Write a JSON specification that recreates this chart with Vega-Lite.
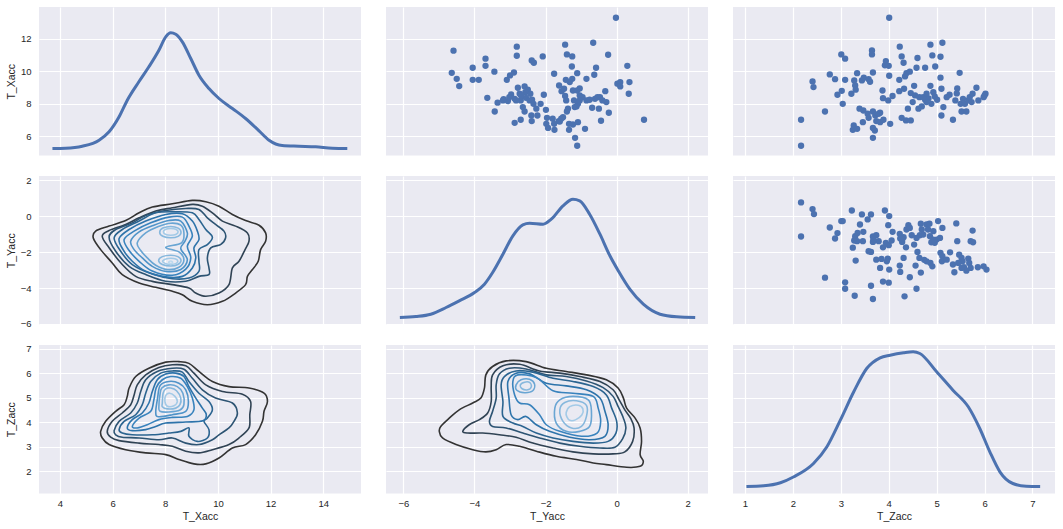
{
  "$schema": "https://vega.github.io/schema/vega-lite/v6.json",
  "padding": {"left": 6, "top": 7, "right": 5, "bottom": 5},
  "datasets": {
    "kde_x": [
      {"T_Xacc": 3.72, "density": 0}, {"T_Xacc": 4.22, "density": 0.003}, {"T_Xacc": 4.85, "density": 0.023},
      {"T_Xacc": 5.49, "density": 0.083}, {"T_Xacc": 5.87, "density": 0.167}, {"T_Xacc": 6.25, "density": 0.317},
      {"T_Xacc": 6.56, "density": 0.483}, {"T_Xacc": 7.0, "density": 0.667}, {"T_Xacc": 7.38, "density": 0.817},
      {"T_Xacc": 7.76, "density": 0.983}, {"T_Xacc": 8.02, "density": 1.117}, {"T_Xacc": 8.21, "density": 1.157},
      {"T_Xacc": 8.4, "density": 1.143}, {"T_Xacc": 8.65, "density": 1.067}, {"T_Xacc": 8.97, "density": 0.9},
      {"T_Xacc": 9.28, "density": 0.733}, {"T_Xacc": 9.66, "density": 0.6}, {"T_Xacc": 10.04, "density": 0.5},
      {"T_Xacc": 10.55, "density": 0.4}, {"T_Xacc": 11.05, "density": 0.3}, {"T_Xacc": 11.56, "density": 0.177},
      {"T_Xacc": 11.94, "density": 0.083}, {"T_Xacc": 12.44, "density": 0.03}, {"T_Xacc": 13.08, "density": 0.023},
      {"T_Xacc": 13.71, "density": 0.017}, {"T_Xacc": 14.34, "density": 0.003}, {"T_Xacc": 14.91, "density": 0}
    ],
    "kde_y": [
      {"T_Yacc": -6.1, "density": 0}, {"T_Yacc": -5.65, "density": 0.01}, {"T_Yacc": -5.23, "density": 0.033},
      {"T_Yacc": -4.8, "density": 0.1}, {"T_Yacc": -4.43, "density": 0.167}, {"T_Yacc": -4.0, "density": 0.25},
      {"T_Yacc": -3.72, "density": 0.333}, {"T_Yacc": -3.49, "density": 0.45}, {"T_Yacc": -3.2, "density": 0.633},
      {"T_Yacc": -2.92, "density": 0.817}, {"T_Yacc": -2.64, "density": 0.927}, {"T_Yacc": -2.45, "density": 0.943},
      {"T_Yacc": -2.07, "density": 0.933}, {"T_Yacc": -1.84, "density": 0.983}, {"T_Yacc": -1.51, "density": 1.117},
      {"T_Yacc": -1.23, "density": 1.183}, {"T_Yacc": -1.04, "density": 1.167}, {"T_Yacc": -0.76, "density": 1.033},
      {"T_Yacc": -0.47, "density": 0.833}, {"T_Yacc": -0.19, "density": 0.617}, {"T_Yacc": 0.045, "density": 0.467},
      {"T_Yacc": 0.37, "density": 0.283}, {"T_Yacc": 0.75, "density": 0.133}, {"T_Yacc": 1.22, "density": 0.033},
      {"T_Yacc": 1.69, "density": 0.007}, {"T_Yacc": 2.21, "density": 0}
    ],
    "kde_z": [
      {"T_Zacc": 1.03, "density": 0}, {"T_Zacc": 1.39, "density": 0.007}, {"T_Zacc": 1.74, "density": 0.037},
      {"T_Zacc": 2.02, "density": 0.097}, {"T_Zacc": 2.43, "density": 0.23}, {"T_Zacc": 2.71, "density": 0.397},
      {"T_Zacc": 2.99, "density": 0.663}, {"T_Zacc": 3.27, "density": 0.947}, {"T_Zacc": 3.54, "density": 1.18},
      {"T_Zacc": 3.82, "density": 1.287}, {"T_Zacc": 4.03, "density": 1.313}, {"T_Zacc": 4.31, "density": 1.337},
      {"T_Zacc": 4.51, "density": 1.347}, {"T_Zacc": 4.65, "density": 1.33}, {"T_Zacc": 5.0, "density": 1.147},
      {"T_Zacc": 5.34, "density": 0.963}, {"T_Zacc": 5.66, "density": 0.797}, {"T_Zacc": 5.9, "density": 0.58},
      {"T_Zacc": 6.11, "density": 0.347}, {"T_Zacc": 6.32, "density": 0.147}, {"T_Zacc": 6.59, "density": 0.03},
      {"T_Zacc": 6.87, "density": 0.003}, {"T_Zacc": 7.16, "density": 0}
    ],
    "s12": [
      {"T_Yacc": -4.59, "T_Xacc": 11.26}, {"T_Yacc": -4.64, "T_Xacc": 9.9}, {"T_Yacc": -4.5, "T_Xacc": 9.53},
      {"T_Yacc": -4.43, "T_Xacc": 9.08}, {"T_Yacc": -4.05, "T_Xacc": 10.21}, {"T_Yacc": -4.05, "T_Xacc": 9.47},
      {"T_Yacc": -3.88, "T_Xacc": 9.47}, {"T_Yacc": -3.69, "T_Xacc": 10.77}, {"T_Yacc": -3.69, "T_Xacc": 10.33},
      {"T_Yacc": -3.44, "T_Xacc": 9.97}, {"T_Yacc": -3.64, "T_Xacc": 8.36}, {"T_Yacc": -3.35, "T_Xacc": 8.06},
      {"T_Yacc": -3.43, "T_Xacc": 7.52}, {"T_Yacc": -3.18, "T_Xacc": 8.28}, {"T_Yacc": -3.06, "T_Xacc": 8.16},
      {"T_Yacc": -3.09, "T_Xacc": 9.47}, {"T_Yacc": -3.0, "T_Xacc": 9.74}, {"T_Yacc": -2.89, "T_Xacc": 9.92},
      {"T_Yacc": -2.81, "T_Xacc": 11.51}, {"T_Yacc": -2.81, "T_Xacc": 10.95}, {"T_Yacc": -2.97, "T_Xacc": 8.57},
      {"T_Yacc": -2.87, "T_Xacc": 8.3}, {"T_Yacc": -2.78, "T_Xacc": 8.98}, {"T_Yacc": -2.73, "T_Xacc": 8.61},
      {"T_Yacc": -2.7, "T_Xacc": 8.2}, {"T_Yacc": -2.59, "T_Xacc": 9.06}, {"T_Yacc": -2.57, "T_Xacc": 8.71},
      {"T_Yacc": -2.5, "T_Xacc": 8.86}, {"T_Yacc": -2.55, "T_Xacc": 8.36}, {"T_Yacc": -2.45, "T_Xacc": 8.2},
      {"T_Yacc": -2.38, "T_Xacc": 8.24}, {"T_Yacc": -2.59, "T_Xacc": 7.52}, {"T_Yacc": -2.4, "T_Xacc": 7.27},
      {"T_Yacc": -2.39, "T_Xacc": 6.93}, {"T_Yacc": -2.26, "T_Xacc": 7.69}, {"T_Yacc": -2.23, "T_Xacc": 7.27},
      {"T_Yacc": -2.14, "T_Xacc": 7.99}, {"T_Yacc": -2.05, "T_Xacc": 8.55}, {"T_Yacc": -2.39, "T_Xacc": 10.66},
      {"T_Yacc": -2.33, "T_Xacc": 10.52}, {"T_Yacc": -2.08, "T_Xacc": 10.91}, {"T_Yacc": -2.87, "T_Xacc": 6.82},
      {"T_Yacc": -2.7, "T_Xacc": 7.01}, {"T_Yacc": -1.99, "T_Xacc": 7.62}, {"T_Yacc": -1.96, "T_Xacc": 7.13},
      {"T_Yacc": -1.93, "T_Xacc": 6.51}, {"T_Yacc": -1.8, "T_Xacc": 7.07}, {"T_Yacc": -1.75, "T_Xacc": 6.39},
      {"T_Yacc": -1.63, "T_Xacc": 6.93}, {"T_Yacc": -1.51, "T_Xacc": 7.17}, {"T_Yacc": -1.4, "T_Xacc": 7.52},
      {"T_Yacc": -1.76, "T_Xacc": 9.84}, {"T_Yacc": -1.62, "T_Xacc": 9.12}, {"T_Yacc": -1.55, "T_Xacc": 8.77},
      {"T_Yacc": -1.45, "T_Xacc": 8.47}, {"T_Yacc": -1.48, "T_Xacc": 8.92}, {"T_Yacc": -1.43, "T_Xacc": 9.47},
      {"T_Yacc": -1.45, "T_Xacc": 11.63}, {"T_Yacc": -1.4, "T_Xacc": 11.03}, {"T_Yacc": -1.25, "T_Xacc": 10.91},
      {"T_Yacc": -1.26, "T_Xacc": 10.29}, {"T_Yacc": -1.25, "T_Xacc": 9.53}, {"T_Yacc": -1.11, "T_Xacc": 9.88},
      {"T_Yacc": -1.23, "T_Xacc": 8.81}, {"T_Yacc": -1.11, "T_Xacc": 8.81}, {"T_Yacc": -1.04, "T_Xacc": 8.51},
      {"T_Yacc": -1.2, "T_Xacc": 8.2}, {"T_Yacc": -1.09, "T_Xacc": 7.99}, {"T_Yacc": -0.96, "T_Xacc": 8.4},
      {"T_Yacc": -1.13, "T_Xacc": 7.83}, {"T_Yacc": -1.34, "T_Xacc": 6.76}, {"T_Yacc": -1.34, "T_Xacc": 6.39},
      {"T_Yacc": -1.23, "T_Xacc": 6.72}, {"T_Yacc": -1.09, "T_Xacc": 6.86}, {"T_Yacc": -1.17, "T_Xacc": 5.9},
      {"T_Yacc": -1.11, "T_Xacc": 5.41}, {"T_Yacc": -0.89, "T_Xacc": 6.45}, {"T_Yacc": -0.85, "T_Xacc": 9.53},
      {"T_Yacc": -0.85, "T_Xacc": 8.2}, {"T_Yacc": -0.66, "T_Xacc": 11.75}, {"T_Yacc": -0.63, "T_Xacc": 9.78},
      {"T_Yacc": -0.58, "T_Xacc": 10.21}, {"T_Yacc": -0.69, "T_Xacc": 7.75}, {"T_Yacc": -0.5, "T_Xacc": 7.69},
      {"T_Yacc": -0.61, "T_Xacc": 8.3}, {"T_Yacc": -0.47, "T_Xacc": 8.4}, {"T_Yacc": -0.32, "T_Xacc": 8.77},
      {"T_Yacc": -0.29, "T_Xacc": 8.1}, {"T_Yacc": -0.22, "T_Xacc": 7.44}, {"T_Yacc": -0.44, "T_Xacc": 6.95},
      {"T_Yacc": -0.24, "T_Xacc": 11.01}, {"T_Yacc": -0.02, "T_Xacc": 13.29}, {"T_Yacc": 0.02, "T_Xacc": 9.23},
      {"T_Yacc": 0.1, "T_Xacc": 9.33}, {"T_Yacc": 0.1, "T_Xacc": 9.06}, {"T_Yacc": 0.3, "T_Xacc": 10.33},
      {"T_Yacc": 0.36, "T_Xacc": 9.33}, {"T_Yacc": 0.34, "T_Xacc": 8.61}, {"T_Yacc": 0.77, "T_Xacc": 7.01},
      {"T_Yacc": -1.42, "T_Xacc": 8.2}, {"T_Yacc": -1.6, "T_Xacc": 6.9}, {"T_Yacc": -1.32, "T_Xacc": 9.33},
      {"T_Yacc": -1.98, "T_Xacc": 6.76}, {"T_Yacc": -2.64, "T_Xacc": 7.79}, {"T_Yacc": -2.34, "T_Xacc": 7.99},
      {"T_Yacc": -2.83, "T_Xacc": 8.2}, {"T_Yacc": -0.4, "T_Xacc": 8.2}, {"T_Yacc": -0.76, "T_Xacc": 8.24},
      {"T_Yacc": -0.54, "T_Xacc": 8.4}, {"T_Yacc": -1.04, "T_Xacc": 8.2}, {"T_Yacc": -1.18, "T_Xacc": 7.79},
      {"T_Yacc": -1.37, "T_Xacc": 7.69}, {"T_Yacc": -1.56, "T_Xacc": 7.07}, {"T_Yacc": -1.76, "T_Xacc": 6.76},
      {"T_Yacc": -2.69, "T_Xacc": 8.51}, {"T_Yacc": -2.43, "T_Xacc": 8.61}, {"T_Yacc": -3.02, "T_Xacc": 8.4},
      {"T_Yacc": -3.2, "T_Xacc": 8.2}, {"T_Yacc": -1.04, "T_Xacc": 8.94}
    ],
    "s13": [
      {"T_Zacc": 4.01, "T_Xacc": 13.29}, {"T_Zacc": 2.17, "T_Xacc": 7.01}, {"T_Zacc": 2.17, "T_Xacc": 5.41},
      {"T_Zacc": 2.41, "T_Xacc": 9.37}, {"T_Zacc": 2.43, "T_Xacc": 9.02}, {"T_Zacc": 2.67, "T_Xacc": 7.52},
      {"T_Zacc": 2.77, "T_Xacc": 9.8}, {"T_Zacc": 2.88, "T_Xacc": 9.51}, {"T_Zacc": 3.01, "T_Xacc": 11.03},
      {"T_Zacc": 3.09, "T_Xacc": 10.77}, {"T_Zacc": 3.09, "T_Xacc": 9.47}, {"T_Zacc": 3.02, "T_Xacc": 8.79},
      {"T_Zacc": 2.93, "T_Xacc": 8.55}, {"T_Zacc": 3.04, "T_Xacc": 7.99}, {"T_Zacc": 3.22, "T_Xacc": 8.61},
      {"T_Zacc": 3.28, "T_Xacc": 9.43}, {"T_Zacc": 3.3, "T_Xacc": 9.12}, {"T_Zacc": 3.34, "T_Xacc": 9.88},
      {"T_Zacc": 3.31, "T_Xacc": 8.86}, {"T_Zacc": 3.44, "T_Xacc": 9.43}, {"T_Zacc": 3.48, "T_Xacc": 9.6},
      {"T_Zacc": 3.58, "T_Xacc": 9.51}, {"T_Zacc": 3.61, "T_Xacc": 9.35}, {"T_Zacc": 3.65, "T_Xacc": 11.28},
      {"T_Zacc": 3.65, "T_Xacc": 11.03}, {"T_Zacc": 3.67, "T_Xacc": 9.92}, {"T_Zacc": 3.39, "T_Xacc": 7.69},
      {"T_Zacc": 3.47, "T_Xacc": 7.58}, {"T_Zacc": 3.56, "T_Xacc": 7.38}, {"T_Zacc": 3.46, "T_Xacc": 6.86},
      {"T_Zacc": 3.27, "T_Xacc": 6.66}, {"T_Zacc": 3.25, "T_Xacc": 6.39}, {"T_Zacc": 3.34, "T_Xacc": 6.45},
      {"T_Zacc": 3.58, "T_Xacc": 7.13}, {"T_Zacc": 3.67, "T_Xacc": 7.52}, {"T_Zacc": 3.72, "T_Xacc": 7.27},
      {"T_Zacc": 3.82, "T_Xacc": 7.44}, {"T_Zacc": 3.74, "T_Xacc": 6.93}, {"T_Zacc": 3.67, "T_Xacc": 6.51},
      {"T_Zacc": 3.71, "T_Xacc": 6.35}, {"T_Zacc": 3.67, "T_Xacc": 5.9}, {"T_Zacc": 3.82, "T_Xacc": 6.86},
      {"T_Zacc": 3.89, "T_Xacc": 7.01}, {"T_Zacc": 4.03, "T_Xacc": 6.76}, {"T_Zacc": 3.87, "T_Xacc": 8.81},
      {"T_Zacc": 3.88, "T_Xacc": 8.34}, {"T_Zacc": 3.99, "T_Xacc": 8.2}, {"T_Zacc": 4.08, "T_Xacc": 8.47},
      {"T_Zacc": 3.92, "T_Xacc": 10.36}, {"T_Zacc": 3.94, "T_Xacc": 10.62}, {"T_Zacc": 4.0, "T_Xacc": 10.33},
      {"T_Zacc": 4.01, "T_Xacc": 9.72}, {"T_Zacc": 4.23, "T_Xacc": 11.51}, {"T_Zacc": 4.27, "T_Xacc": 10.91},
      {"T_Zacc": 4.31, "T_Xacc": 10.52}, {"T_Zacc": 4.22, "T_Xacc": 9.47}, {"T_Zacc": 4.22, "T_Xacc": 8.77},
      {"T_Zacc": 4.32, "T_Xacc": 8.92}, {"T_Zacc": 4.34, "T_Xacc": 9.68}, {"T_Zacc": 4.37, "T_Xacc": 9.88},
      {"T_Zacc": 4.44, "T_Xacc": 9.97}, {"T_Zacc": 4.6, "T_Xacc": 10.81}, {"T_Zacc": 4.58, "T_Xacc": 10.21},
      {"T_Zacc": 4.76, "T_Xacc": 10.21}, {"T_Zacc": 4.87, "T_Xacc": 11.63}, {"T_Zacc": 4.91, "T_Xacc": 10.97},
      {"T_Zacc": 4.97, "T_Xacc": 10.29}, {"T_Zacc": 5.12, "T_Xacc": 11.75}, {"T_Zacc": 5.08, "T_Xacc": 10.89},
      {"T_Zacc": 5.08, "T_Xacc": 9.6}, {"T_Zacc": 5.1, "T_Xacc": 8.92}, {"T_Zacc": 4.53, "T_Xacc": 9.1},
      {"T_Zacc": 4.46, "T_Xacc": 8.65}, {"T_Zacc": 4.5, "T_Xacc": 8.1}, {"T_Zacc": 4.4, "T_Xacc": 7.69},
      {"T_Zacc": 4.27, "T_Xacc": 7.13}, {"T_Zacc": 4.36, "T_Xacc": 6.97}, {"T_Zacc": 4.46, "T_Xacc": 6.97},
      {"T_Zacc": 4.62, "T_Xacc": 7.69}, {"T_Zacc": 4.69, "T_Xacc": 7.83}, {"T_Zacc": 4.64, "T_Xacc": 8.4},
      {"T_Zacc": 4.76, "T_Xacc": 8.24}, {"T_Zacc": 4.83, "T_Xacc": 8.32}, {"T_Zacc": 4.87, "T_Xacc": 9.1},
      {"T_Zacc": 4.93, "T_Xacc": 8.71}, {"T_Zacc": 4.96, "T_Xacc": 8.44}, {"T_Zacc": 5.01, "T_Xacc": 8.24},
      {"T_Zacc": 4.89, "T_Xacc": 7.99}, {"T_Zacc": 4.79, "T_Xacc": 8.1}, {"T_Zacc": 5.14, "T_Xacc": 7.79},
      {"T_Zacc": 5.1, "T_Xacc": 7.27}, {"T_Zacc": 5.34, "T_Xacc": 7.01}, {"T_Zacc": 5.27, "T_Xacc": 8.55},
      {"T_Zacc": 5.39, "T_Xacc": 8.2}, {"T_Zacc": 5.42, "T_Xacc": 8.63}, {"T_Zacc": 5.43, "T_Xacc": 8.94},
      {"T_Zacc": 5.48, "T_Xacc": 9.9}, {"T_Zacc": 5.5, "T_Xacc": 7.99}, {"T_Zacc": 5.52, "T_Xacc": 7.52},
      {"T_Zacc": 5.62, "T_Xacc": 7.52}, {"T_Zacc": 5.59, "T_Xacc": 7.99}, {"T_Zacc": 5.66, "T_Xacc": 8.2},
      {"T_Zacc": 5.69, "T_Xacc": 8.4}, {"T_Zacc": 5.75, "T_Xacc": 8.61}, {"T_Zacc": 5.83, "T_Xacc": 8.98},
      {"T_Zacc": 5.73, "T_Xacc": 8.1}, {"T_Zacc": 5.87, "T_Xacc": 8.2}, {"T_Zacc": 5.98, "T_Xacc": 8.4},
      {"T_Zacc": 6.02, "T_Xacc": 8.61}, {"T_Zacc": 6.0, "T_Xacc": 8.51}, {"T_Zacc": 4.55, "T_Xacc": 8.51},
      {"T_Zacc": 4.72, "T_Xacc": 8.4}, {"T_Zacc": 4.79, "T_Xacc": 8.61}, {"T_Zacc": 5.21, "T_Xacc": 8.4},
      {"T_Zacc": 5.55, "T_Xacc": 8.3}, {"T_Zacc": 3.79, "T_Xacc": 7.38}
    ],
    "s23": [
      {"T_Zacc": 2.17, "T_Yacc": 0.77}, {"T_Zacc": 2.17, "T_Yacc": -1.13}, {"T_Zacc": 2.41, "T_Yacc": 0.4},
      {"T_Zacc": 2.44, "T_Yacc": 0.12}, {"T_Zacc": 2.67, "T_Yacc": -3.42}, {"T_Zacc": 2.77, "T_Yacc": -0.63},
      {"T_Zacc": 2.88, "T_Yacc": -1.24}, {"T_Zacc": 2.93, "T_Yacc": -0.94}, {"T_Zacc": 3.01, "T_Yacc": -0.27},
      {"T_Zacc": 3.04, "T_Yacc": -0.27}, {"T_Zacc": 3.09, "T_Yacc": -3.68}, {"T_Zacc": 3.09, "T_Yacc": -4.04},
      {"T_Zacc": 3.23, "T_Yacc": 0.32}, {"T_Zacc": 3.25, "T_Yacc": -1.75}, {"T_Zacc": 3.29, "T_Yacc": -4.43},
      {"T_Zacc": 3.31, "T_Yacc": -2.47}, {"T_Zacc": 3.28, "T_Yacc": -1.35}, {"T_Zacc": 3.3, "T_Yacc": -1.11},
      {"T_Zacc": 3.35, "T_Yacc": -0.93}, {"T_Zacc": 3.4, "T_Yacc": -0.46}, {"T_Zacc": 3.44, "T_Yacc": 0.1},
      {"T_Zacc": 3.47, "T_Yacc": -0.87}, {"T_Zacc": 3.46, "T_Yacc": -1.39}, {"T_Zacc": 3.56, "T_Yacc": -0.18},
      {"T_Zacc": 3.63, "T_Yacc": 0.1}, {"T_Zacc": 3.58, "T_Yacc": -1.95}, {"T_Zacc": 3.63, "T_Yacc": -1.99},
      {"T_Zacc": 3.67, "T_Yacc": -1.13}, {"T_Zacc": 3.67, "T_Yacc": -1.43}, {"T_Zacc": 3.74, "T_Yacc": -1.06},
      {"T_Zacc": 3.79, "T_Yacc": -1.39}, {"T_Zacc": 3.63, "T_Yacc": -3.87}, {"T_Zacc": 3.67, "T_Yacc": -4.61},
      {"T_Zacc": 3.74, "T_Yacc": -2.42}, {"T_Zacc": 3.82, "T_Yacc": -2.88}, {"T_Zacc": 3.85, "T_Yacc": -2.38},
      {"T_Zacc": 3.88, "T_Yacc": -1.73}, {"T_Zacc": 3.88, "T_Yacc": -3.64}, {"T_Zacc": 3.92, "T_Yacc": 0.32},
      {"T_Zacc": 3.94, "T_Yacc": -1.48}, {"T_Zacc": 3.98, "T_Yacc": -2.36}, {"T_Zacc": 3.99, "T_Yacc": -0.5},
      {"T_Zacc": 4.01, "T_Yacc": 0.01}, {"T_Zacc": 4.0, "T_Yacc": -1.61}, {"T_Zacc": 4.01, "T_Yacc": -2.97},
      {"T_Zacc": 4.06, "T_Yacc": -1.35}, {"T_Zacc": 4.08, "T_Yacc": -0.87}, {"T_Zacc": 4.0, "T_Yacc": -3.7},
      {"T_Zacc": 4.23, "T_Yacc": -0.98}, {"T_Zacc": 4.23, "T_Yacc": -2.75}, {"T_Zacc": 4.24, "T_Yacc": -3.1},
      {"T_Zacc": 4.31, "T_Yacc": -1.17}, {"T_Zacc": 4.28, "T_Yacc": -1.43}, {"T_Zacc": 4.31, "T_Yacc": -2.32},
      {"T_Zacc": 4.33, "T_Yacc": -4.46}, {"T_Zacc": 4.36, "T_Yacc": -1.73}, {"T_Zacc": 4.37, "T_Yacc": -0.74},
      {"T_Zacc": 4.41, "T_Yacc": -0.5}, {"T_Zacc": 4.44, "T_Yacc": -3.4}, {"T_Zacc": 4.48, "T_Yacc": -1.06},
      {"T_Zacc": 4.53, "T_Yacc": -1.58}, {"T_Zacc": 4.56, "T_Yacc": -2.75}, {"T_Zacc": 4.58, "T_Yacc": -4.04},
      {"T_Zacc": 4.6, "T_Yacc": -1.99}, {"T_Zacc": 4.64, "T_Yacc": -2.32}, {"T_Zacc": 4.67, "T_Yacc": -3.14},
      {"T_Zacc": 4.67, "T_Yacc": -0.42}, {"T_Zacc": 4.65, "T_Yacc": -1.06}, {"T_Zacc": 4.72, "T_Yacc": -1.02},
      {"T_Zacc": 4.74, "T_Yacc": -2.43}, {"T_Zacc": 4.79, "T_Yacc": -0.46}, {"T_Zacc": 4.85, "T_Yacc": -0.42},
      {"T_Zacc": 4.82, "T_Yacc": -0.74}, {"T_Zacc": 4.86, "T_Yacc": -1.11}, {"T_Zacc": 4.89, "T_Yacc": -1.45},
      {"T_Zacc": 4.87, "T_Yacc": -2.6}, {"T_Zacc": 4.91, "T_Yacc": -2.79}, {"T_Zacc": 4.93, "T_Yacc": -0.83},
      {"T_Zacc": 4.96, "T_Yacc": -1.48}, {"T_Zacc": 5.0, "T_Yacc": -1.3}, {"T_Zacc": 5.03, "T_Yacc": -0.27},
      {"T_Zacc": 5.07, "T_Yacc": -1.21}, {"T_Zacc": 5.12, "T_Yacc": -0.65}, {"T_Zacc": 5.08, "T_Yacc": -2.04},
      {"T_Zacc": 5.12, "T_Yacc": -2.23}, {"T_Zacc": 5.11, "T_Yacc": -2.51}, {"T_Zacc": 5.28, "T_Yacc": -2.01},
      {"T_Zacc": 5.34, "T_Yacc": -2.69}, {"T_Zacc": 5.37, "T_Yacc": -3.12}, {"T_Zacc": 5.41, "T_Yacc": -0.4},
      {"T_Zacc": 5.43, "T_Yacc": -1.39}, {"T_Zacc": 5.47, "T_Yacc": -2.14}, {"T_Zacc": 5.52, "T_Yacc": -2.32},
      {"T_Zacc": 5.54, "T_Yacc": -2.51}, {"T_Zacc": 5.57, "T_Yacc": -2.84}, {"T_Zacc": 5.62, "T_Yacc": -3.03},
      {"T_Zacc": 5.66, "T_Yacc": -2.36}, {"T_Zacc": 5.68, "T_Yacc": -2.6}, {"T_Zacc": 5.71, "T_Yacc": -2.88},
      {"T_Zacc": 5.75, "T_Yacc": -0.8}, {"T_Zacc": 5.71, "T_Yacc": -1.39}, {"T_Zacc": 5.76, "T_Yacc": -1.45},
      {"T_Zacc": 5.86, "T_Yacc": -2.84}, {"T_Zacc": 5.98, "T_Yacc": -2.79}, {"T_Zacc": 6.04, "T_Yacc": -2.97},
      {"T_Zacc": 4.44, "T_Yacc": -0.65}, {"T_Zacc": 4.58, "T_Yacc": -1.21}, {"T_Zacc": 4.24, "T_Yacc": -1.24},
      {"T_Zacc": 4.79, "T_Yacc": -2.51}, {"T_Zacc": 5.21, "T_Yacc": -2.42}, {"T_Zacc": 5.52, "T_Yacc": -2.88},
      {"T_Zacc": 3.96, "T_Yacc": -2.51}, {"T_Zacc": 3.68, "T_Yacc": -1.3}, {"T_Zacc": 3.34, "T_Yacc": -1.39},
      {"T_Zacc": 4.69, "T_Yacc": -0.74}, {"T_Zacc": 4.28, "T_Yacc": -1.3}, {"T_Zacc": 4.93, "T_Yacc": -1.3},
      {"T_Zacc": 5.45, "T_Yacc": -2.6}
    ],
    "c21": [
      {"ring": "1", "level": 1, "T_Xacc": 5.27, "T_Yacc": -1.21}, {"ring": "1", "level": 1, "T_Xacc": 5.36, "T_Yacc": -0.83},
      {"ring": "1", "level": 1, "T_Xacc": 5.87, "T_Yacc": -0.55}, {"ring": "1", "level": 1, "T_Xacc": 6.5, "T_Yacc": -0.24},
      {"ring": "1", "level": 1, "T_Xacc": 7.01, "T_Yacc": 0.19}, {"ring": "1", "level": 1, "T_Xacc": 7.51, "T_Yacc": 0.51},
      {"ring": "1", "level": 1, "T_Xacc": 8.27, "T_Yacc": 0.69}, {"ring": "1", "level": 1, "T_Xacc": 9.03, "T_Yacc": 0.88},
      {"ring": "1", "level": 1, "T_Xacc": 9.54, "T_Yacc": 0.81}, {"ring": "1", "level": 1, "T_Xacc": 10.04, "T_Yacc": 0.56},
      {"ring": "1", "level": 1, "T_Xacc": 10.55, "T_Yacc": 0.1}, {"ring": "1", "level": 1, "T_Xacc": 11.05, "T_Yacc": -0.24},
      {"ring": "1", "level": 1, "T_Xacc": 11.56, "T_Yacc": -0.5}, {"ring": "1", "level": 1, "T_Xacc": 11.81, "T_Yacc": -0.93},
      {"ring": "1", "level": 1, "T_Xacc": 11.81, "T_Yacc": -1.39}, {"ring": "1", "level": 1, "T_Xacc": 11.62, "T_Yacc": -1.86},
      {"ring": "1", "level": 1, "T_Xacc": 11.53, "T_Yacc": -2.51}, {"ring": "1", "level": 1, "T_Xacc": 11.31, "T_Yacc": -2.97},
      {"ring": "1", "level": 1, "T_Xacc": 11.12, "T_Yacc": -3.35}, {"ring": "1", "level": 1, "T_Xacc": 11.05, "T_Yacc": -3.81},
      {"ring": "1", "level": 1, "T_Xacc": 10.67, "T_Yacc": -4.28}, {"ring": "1", "level": 1, "T_Xacc": 10.17, "T_Yacc": -4.74},
      {"ring": "1", "level": 1, "T_Xacc": 9.6, "T_Yacc": -4.93}, {"ring": "1", "level": 1, "T_Xacc": 9.03, "T_Yacc": -4.74},
      {"ring": "1", "level": 1, "T_Xacc": 8.65, "T_Yacc": -4.37}, {"ring": "1", "level": 1, "T_Xacc": 8.27, "T_Yacc": -4.18},
      {"ring": "1", "level": 1, "T_Xacc": 7.64, "T_Yacc": -3.96}, {"ring": "1", "level": 1, "T_Xacc": 7.01, "T_Yacc": -3.72},
      {"ring": "1", "level": 1, "T_Xacc": 6.37, "T_Yacc": -3.25}, {"ring": "1", "level": 1, "T_Xacc": 5.99, "T_Yacc": -2.6},
      {"ring": "1", "level": 1, "T_Xacc": 5.55, "T_Yacc": -1.86},
      {"ring": "2", "level": 2, "T_Xacc": 5.61, "T_Yacc": -1.11}, {"ring": "2", "level": 2, "T_Xacc": 5.87, "T_Yacc": -0.8},
      {"ring": "2", "level": 2, "T_Xacc": 6.5, "T_Yacc": -0.46}, {"ring": "2", "level": 2, "T_Xacc": 7.01, "T_Yacc": -0.09},
      {"ring": "2", "level": 2, "T_Xacc": 7.64, "T_Yacc": 0.29}, {"ring": "2", "level": 2, "T_Xacc": 8.27, "T_Yacc": 0.47},
      {"ring": "2", "level": 2, "T_Xacc": 9.03, "T_Yacc": 0.66}, {"ring": "2", "level": 2, "T_Xacc": 9.41, "T_Yacc": 0.56},
      {"ring": "2", "level": 2, "T_Xacc": 9.79, "T_Yacc": 0.19}, {"ring": "2", "level": 2, "T_Xacc": 10.17, "T_Yacc": -0.27},
      {"ring": "2", "level": 2, "T_Xacc": 10.67, "T_Yacc": -0.55}, {"ring": "2", "level": 2, "T_Xacc": 11.12, "T_Yacc": -0.93},
      {"ring": "2", "level": 2, "T_Xacc": 11.18, "T_Yacc": -1.39}, {"ring": "2", "level": 2, "T_Xacc": 11.03, "T_Yacc": -1.86},
      {"ring": "2", "level": 2, "T_Xacc": 10.8, "T_Yacc": -2.51}, {"ring": "2", "level": 2, "T_Xacc": 10.55, "T_Yacc": -2.88},
      {"ring": "2", "level": 2, "T_Xacc": 10.42, "T_Yacc": -3.81}, {"ring": "2", "level": 2, "T_Xacc": 10.04, "T_Yacc": -4.28},
      {"ring": "2", "level": 2, "T_Xacc": 9.54, "T_Yacc": -4.46}, {"ring": "2", "level": 2, "T_Xacc": 9.16, "T_Yacc": -4.28},
      {"ring": "2", "level": 2, "T_Xacc": 8.9, "T_Yacc": -4.0}, {"ring": "2", "level": 2, "T_Xacc": 8.27, "T_Yacc": -3.81},
      {"ring": "2", "level": 2, "T_Xacc": 7.51, "T_Yacc": -3.63}, {"ring": "2", "level": 2, "T_Xacc": 6.88, "T_Yacc": -3.35},
      {"ring": "2", "level": 2, "T_Xacc": 6.37, "T_Yacc": -2.69}, {"ring": "2", "level": 2, "T_Xacc": 5.87, "T_Yacc": -1.76},
      {"ring": "3", "level": 3, "T_Xacc": 5.87, "T_Yacc": -1.17}, {"ring": "3", "level": 3, "T_Xacc": 6.12, "T_Yacc": -0.74},
      {"ring": "3", "level": 3, "T_Xacc": 6.75, "T_Yacc": -0.37}, {"ring": "3", "level": 3, "T_Xacc": 7.26, "T_Yacc": 0.04},
      {"ring": "3", "level": 3, "T_Xacc": 8.02, "T_Yacc": 0.32}, {"ring": "3", "level": 3, "T_Xacc": 8.78, "T_Yacc": 0.43},
      {"ring": "3", "level": 3, "T_Xacc": 9.28, "T_Yacc": 0.38}, {"ring": "3", "level": 3, "T_Xacc": 9.6, "T_Yacc": -0.09},
      {"ring": "3", "level": 3, "T_Xacc": 9.91, "T_Yacc": -0.46}, {"ring": "3", "level": 3, "T_Xacc": 10.23, "T_Yacc": -0.83},
      {"ring": "3", "level": 3, "T_Xacc": 10.29, "T_Yacc": -1.21}, {"ring": "3", "level": 3, "T_Xacc": 10.1, "T_Yacc": -1.58},
      {"ring": "3", "level": 3, "T_Xacc": 9.73, "T_Yacc": -1.76}, {"ring": "3", "level": 3, "T_Xacc": 9.6, "T_Yacc": -2.32},
      {"ring": "3", "level": 3, "T_Xacc": 9.66, "T_Yacc": -2.88}, {"ring": "3", "level": 3, "T_Xacc": 9.66, "T_Yacc": -3.25},
      {"ring": "3", "level": 3, "T_Xacc": 9.28, "T_Yacc": -3.35}, {"ring": "3", "level": 3, "T_Xacc": 8.78, "T_Yacc": -3.62},
      {"ring": "3", "level": 3, "T_Xacc": 8.02, "T_Yacc": -3.62}, {"ring": "3", "level": 3, "T_Xacc": 7.26, "T_Yacc": -3.25},
      {"ring": "3", "level": 3, "T_Xacc": 6.63, "T_Yacc": -2.79}, {"ring": "3", "level": 3, "T_Xacc": 6.12, "T_Yacc": -1.95},
      {"ring": "4", "level": 4, "T_Xacc": 6.06, "T_Yacc": -1.21}, {"ring": "4", "level": 4, "T_Xacc": 6.37, "T_Yacc": -0.74},
      {"ring": "4", "level": 4, "T_Xacc": 7.01, "T_Yacc": -0.27}, {"ring": "4", "level": 4, "T_Xacc": 7.64, "T_Yacc": 0.19},
      {"ring": "4", "level": 4, "T_Xacc": 8.4, "T_Yacc": 0.25}, {"ring": "4", "level": 4, "T_Xacc": 9.03, "T_Yacc": 0.19},
      {"ring": "4", "level": 4, "T_Xacc": 9.28, "T_Yacc": -0.18}, {"ring": "4", "level": 4, "T_Xacc": 9.54, "T_Yacc": -0.74},
      {"ring": "4", "level": 4, "T_Xacc": 9.79, "T_Yacc": -1.17}, {"ring": "4", "level": 4, "T_Xacc": 9.6, "T_Yacc": -1.58},
      {"ring": "4", "level": 4, "T_Xacc": 9.28, "T_Yacc": -1.86}, {"ring": "4", "level": 4, "T_Xacc": 9.28, "T_Yacc": -2.51},
      {"ring": "4", "level": 4, "T_Xacc": 9.28, "T_Yacc": -3.07}, {"ring": "4", "level": 4, "T_Xacc": 8.9, "T_Yacc": -3.44},
      {"ring": "4", "level": 4, "T_Xacc": 8.27, "T_Yacc": -3.48}, {"ring": "4", "level": 4, "T_Xacc": 7.51, "T_Yacc": -3.22},
      {"ring": "4", "level": 4, "T_Xacc": 6.75, "T_Yacc": -2.69}, {"ring": "4", "level": 4, "T_Xacc": 6.31, "T_Yacc": -1.95},
      {"ring": "5", "level": 5, "T_Xacc": 6.25, "T_Yacc": -1.24}, {"ring": "5", "level": 5, "T_Xacc": 6.63, "T_Yacc": -0.74},
      {"ring": "5", "level": 5, "T_Xacc": 7.26, "T_Yacc": -0.27}, {"ring": "5", "level": 5, "T_Xacc": 8.02, "T_Yacc": 0.1},
      {"ring": "5", "level": 5, "T_Xacc": 8.65, "T_Yacc": 0.14}, {"ring": "5", "level": 5, "T_Xacc": 9.03, "T_Yacc": -0.27},
      {"ring": "5", "level": 5, "T_Xacc": 9.22, "T_Yacc": -0.83}, {"ring": "5", "level": 5, "T_Xacc": 9.28, "T_Yacc": -1.3},
      {"ring": "5", "level": 5, "T_Xacc": 9.09, "T_Yacc": -1.76}, {"ring": "5", "level": 5, "T_Xacc": 9.16, "T_Yacc": -2.32},
      {"ring": "5", "level": 5, "T_Xacc": 9.03, "T_Yacc": -2.88}, {"ring": "5", "level": 5, "T_Xacc": 8.65, "T_Yacc": -3.35},
      {"ring": "5", "level": 5, "T_Xacc": 8.02, "T_Yacc": -3.38}, {"ring": "5", "level": 5, "T_Xacc": 7.26, "T_Yacc": -3.07},
      {"ring": "5", "level": 5, "T_Xacc": 6.75, "T_Yacc": -2.51}, {"ring": "5", "level": 5, "T_Xacc": 6.4, "T_Yacc": -1.86},
      {"ring": "6", "level": 6, "T_Xacc": 6.44, "T_Yacc": -1.3}, {"ring": "6", "level": 6, "T_Xacc": 6.82, "T_Yacc": -0.83},
      {"ring": "6", "level": 6, "T_Xacc": 7.45, "T_Yacc": -0.37}, {"ring": "6", "level": 6, "T_Xacc": 8.14, "T_Yacc": -0.05},
      {"ring": "6", "level": 6, "T_Xacc": 8.65, "T_Yacc": -0.05}, {"ring": "6", "level": 6, "T_Xacc": 8.9, "T_Yacc": -0.55},
      {"ring": "6", "level": 6, "T_Xacc": 9.03, "T_Yacc": -1.11}, {"ring": "6", "level": 6, "T_Xacc": 8.84, "T_Yacc": -1.67},
      {"ring": "6", "level": 6, "T_Xacc": 8.97, "T_Yacc": -2.32}, {"ring": "6", "level": 6, "T_Xacc": 8.78, "T_Yacc": -2.95},
      {"ring": "6", "level": 6, "T_Xacc": 8.27, "T_Yacc": -3.29}, {"ring": "6", "level": 6, "T_Xacc": 7.51, "T_Yacc": -3.05},
      {"ring": "6", "level": 6, "T_Xacc": 7.01, "T_Yacc": -2.51}, {"ring": "6", "level": 6, "T_Xacc": 6.63, "T_Yacc": -1.91},
      {"ring": "7", "level": 7, "T_Xacc": 6.69, "T_Yacc": -1.39}, {"ring": "7", "level": 7, "T_Xacc": 7.01, "T_Yacc": -0.87},
      {"ring": "7", "level": 7, "T_Xacc": 7.57, "T_Yacc": -0.5}, {"ring": "7", "level": 7, "T_Xacc": 8.14, "T_Yacc": -0.24},
      {"ring": "7", "level": 7, "T_Xacc": 8.59, "T_Yacc": -0.27}, {"ring": "7", "level": 7, "T_Xacc": 8.84, "T_Yacc": -0.93},
      {"ring": "7", "level": 7, "T_Xacc": 8.75, "T_Yacc": -1.39}, {"ring": "7", "level": 7, "T_Xacc": 8.59, "T_Yacc": -1.8},
      {"ring": "7", "level": 7, "T_Xacc": 8.84, "T_Yacc": -2.42}, {"ring": "7", "level": 7, "T_Xacc": 8.59, "T_Yacc": -2.97},
      {"ring": "7", "level": 7, "T_Xacc": 8.02, "T_Yacc": -3.07}, {"ring": "7", "level": 7, "T_Xacc": 7.51, "T_Yacc": -2.79},
      {"ring": "7", "level": 7, "T_Xacc": 7.13, "T_Yacc": -2.32}, {"ring": "7", "level": 7, "T_Xacc": 6.82, "T_Yacc": -1.86},
      {"ring": "8", "level": 8, "T_Xacc": 6.94, "T_Yacc": -1.48}, {"ring": "8", "level": 8, "T_Xacc": 7.26, "T_Yacc": -0.93},
      {"ring": "8", "level": 8, "T_Xacc": 7.74, "T_Yacc": -0.57}, {"ring": "8", "level": 8, "T_Xacc": 8.21, "T_Yacc": -0.39},
      {"ring": "8", "level": 8, "T_Xacc": 8.59, "T_Yacc": -0.5}, {"ring": "8", "level": 8, "T_Xacc": 8.71, "T_Yacc": -0.93},
      {"ring": "8", "level": 8, "T_Xacc": 8.62, "T_Yacc": -1.48}, {"ring": "8", "level": 8, "T_Xacc": 8.02, "T_Yacc": -1.73},
      {"ring": "8", "level": 8, "T_Xacc": 8.52, "T_Yacc": -1.99}, {"ring": "8", "level": 8, "T_Xacc": 8.71, "T_Yacc": -2.42},
      {"ring": "8", "level": 8, "T_Xacc": 8.52, "T_Yacc": -2.84}, {"ring": "8", "level": 8, "T_Xacc": 8.08, "T_Yacc": -2.97},
      {"ring": "8", "level": 8, "T_Xacc": 7.64, "T_Yacc": -2.73}, {"ring": "8", "level": 8, "T_Xacc": 7.32, "T_Yacc": -2.32},
      {"ring": "8", "level": 8, "T_Xacc": 7.07, "T_Yacc": -1.91},
      {"ring": "9a", "level": 9, "T_Xacc": 7.79, "T_Yacc": -0.89}, {"ring": "9a", "level": 9, "T_Xacc": 7.91, "T_Yacc": -0.66},
      {"ring": "9a", "level": 9, "T_Xacc": 8.21, "T_Yacc": -0.57}, {"ring": "9a", "level": 9, "T_Xacc": 8.49, "T_Yacc": -0.66},
      {"ring": "9a", "level": 9, "T_Xacc": 8.6, "T_Yacc": -0.89}, {"ring": "9a", "level": 9, "T_Xacc": 8.49, "T_Yacc": -1.12},
      {"ring": "9a", "level": 9, "T_Xacc": 8.21, "T_Yacc": -1.2}, {"ring": "9a", "level": 9, "T_Xacc": 7.91, "T_Yacc": -1.12},
      {"ring": "9b", "level": 9, "T_Xacc": 7.75, "T_Yacc": -2.47}, {"ring": "9b", "level": 9, "T_Xacc": 7.89, "T_Yacc": -2.25},
      {"ring": "9b", "level": 9, "T_Xacc": 8.21, "T_Yacc": -2.17}, {"ring": "9b", "level": 9, "T_Xacc": 8.48, "T_Yacc": -2.25},
      {"ring": "9b", "level": 9, "T_Xacc": 8.6, "T_Yacc": -2.47}, {"ring": "9b", "level": 9, "T_Xacc": 8.48, "T_Yacc": -2.69},
      {"ring": "9b", "level": 9, "T_Xacc": 8.21, "T_Yacc": -2.77}, {"ring": "9b", "level": 9, "T_Xacc": 7.89, "T_Yacc": -2.69},
      {"ring": "10a", "level": 10, "T_Xacc": 7.93, "T_Yacc": -0.87}, {"ring": "10a", "level": 10, "T_Xacc": 8.02, "T_Yacc": -0.72},
      {"ring": "10a", "level": 10, "T_Xacc": 8.21, "T_Yacc": -0.68}, {"ring": "10a", "level": 10, "T_Xacc": 8.4, "T_Yacc": -0.72},
      {"ring": "10a", "level": 10, "T_Xacc": 8.49, "T_Yacc": -0.87}, {"ring": "10a", "level": 10, "T_Xacc": 8.4, "T_Yacc": -1.02},
      {"ring": "10a", "level": 10, "T_Xacc": 8.21, "T_Yacc": -1.06}, {"ring": "10a", "level": 10, "T_Xacc": 8.02, "T_Yacc": -1.02},
      {"ring": "10b", "level": 10, "T_Xacc": 7.9, "T_Yacc": -2.51}, {"ring": "10b", "level": 10, "T_Xacc": 8.02, "T_Yacc": -2.38},
      {"ring": "10b", "level": 10, "T_Xacc": 8.21, "T_Yacc": -2.34}, {"ring": "10b", "level": 10, "T_Xacc": 8.4, "T_Yacc": -2.38},
      {"ring": "10b", "level": 10, "T_Xacc": 8.48, "T_Yacc": -2.51}, {"ring": "10b", "level": 10, "T_Xacc": 8.4, "T_Yacc": -2.64},
      {"ring": "10b", "level": 10, "T_Xacc": 8.21, "T_Yacc": -2.68}, {"ring": "10b", "level": 10, "T_Xacc": 8.02, "T_Yacc": -2.64},
      {"ring": "11", "level": 11, "T_Xacc": 8.13, "T_Yacc": -2.56}, {"ring": "11", "level": 11, "T_Xacc": 8.21, "T_Yacc": -2.49},
      {"ring": "11", "level": 11, "T_Xacc": 8.28, "T_Yacc": -2.56}, {"ring": "11", "level": 11, "T_Xacc": 8.21, "T_Yacc": -2.64}
    ],
    "c31": [
      {"ring": "1", "level": 1, "T_Xacc": 5.55, "T_Zacc": 3.63}, {"ring": "1", "level": 1, "T_Xacc": 5.74, "T_Zacc": 4.04},
      {"ring": "1", "level": 1, "T_Xacc": 6.12, "T_Zacc": 4.45}, {"ring": "1", "level": 1, "T_Xacc": 6.44, "T_Zacc": 4.72},
      {"ring": "1", "level": 1, "T_Xacc": 6.56, "T_Zacc": 5.06}, {"ring": "1", "level": 1, "T_Xacc": 6.63, "T_Zacc": 5.4},
      {"ring": "1", "level": 1, "T_Xacc": 6.88, "T_Zacc": 5.87}, {"ring": "1", "level": 1, "T_Xacc": 7.38, "T_Zacc": 6.21},
      {"ring": "1", "level": 1, "T_Xacc": 8.02, "T_Zacc": 6.46}, {"ring": "1", "level": 1, "T_Xacc": 8.52, "T_Zacc": 6.48},
      {"ring": "1", "level": 1, "T_Xacc": 8.9, "T_Zacc": 6.41}, {"ring": "1", "level": 1, "T_Xacc": 9.28, "T_Zacc": 6.08},
      {"ring": "1", "level": 1, "T_Xacc": 9.79, "T_Zacc": 5.67}, {"ring": "1", "level": 1, "T_Xacc": 10.42, "T_Zacc": 5.46},
      {"ring": "1", "level": 1, "T_Xacc": 11.18, "T_Zacc": 5.4}, {"ring": "1", "level": 1, "T_Xacc": 11.75, "T_Zacc": 5.19},
      {"ring": "1", "level": 1, "T_Xacc": 11.88, "T_Zacc": 4.85}, {"ring": "1", "level": 1, "T_Xacc": 11.75, "T_Zacc": 4.45},
      {"ring": "1", "level": 1, "T_Xacc": 11.69, "T_Zacc": 4.04}, {"ring": "1", "level": 1, "T_Xacc": 11.43, "T_Zacc": 3.49},
      {"ring": "1", "level": 1, "T_Xacc": 11.05, "T_Zacc": 3.09}, {"ring": "1", "level": 1, "T_Xacc": 10.55, "T_Zacc": 2.95},
      {"ring": "1", "level": 1, "T_Xacc": 10.04, "T_Zacc": 2.54}, {"ring": "1", "level": 1, "T_Xacc": 9.54, "T_Zacc": 2.3},
      {"ring": "1", "level": 1, "T_Xacc": 9.09, "T_Zacc": 2.3}, {"ring": "1", "level": 1, "T_Xacc": 8.52, "T_Zacc": 2.48},
      {"ring": "1", "level": 1, "T_Xacc": 8.02, "T_Zacc": 2.68}, {"ring": "1", "level": 1, "T_Xacc": 7.26, "T_Zacc": 2.75},
      {"ring": "1", "level": 1, "T_Xacc": 6.5, "T_Zacc": 2.88}, {"ring": "1", "level": 1, "T_Xacc": 5.87, "T_Zacc": 3.09},
      {"ring": "1", "level": 1, "T_Xacc": 5.61, "T_Zacc": 3.36},
      {"ring": "2", "level": 2, "T_Xacc": 5.8, "T_Zacc": 3.63}, {"ring": "2", "level": 2, "T_Xacc": 5.99, "T_Zacc": 4.04},
      {"ring": "2", "level": 2, "T_Xacc": 6.37, "T_Zacc": 4.38}, {"ring": "2", "level": 2, "T_Xacc": 6.69, "T_Zacc": 4.72},
      {"ring": "2", "level": 2, "T_Xacc": 6.82, "T_Zacc": 5.12}, {"ring": "2", "level": 2, "T_Xacc": 6.94, "T_Zacc": 5.53},
      {"ring": "2", "level": 2, "T_Xacc": 7.26, "T_Zacc": 5.94}, {"ring": "2", "level": 2, "T_Xacc": 7.76, "T_Zacc": 6.24},
      {"ring": "2", "level": 2, "T_Xacc": 8.27, "T_Zacc": 6.35}, {"ring": "2", "level": 2, "T_Xacc": 8.78, "T_Zacc": 6.31},
      {"ring": "2", "level": 2, "T_Xacc": 9.09, "T_Zacc": 6.01}, {"ring": "2", "level": 2, "T_Xacc": 9.54, "T_Zacc": 5.53},
      {"ring": "2", "level": 2, "T_Xacc": 10.17, "T_Zacc": 5.26}, {"ring": "2", "level": 2, "T_Xacc": 10.93, "T_Zacc": 5.15},
      {"ring": "2", "level": 2, "T_Xacc": 11.24, "T_Zacc": 4.85}, {"ring": "2", "level": 2, "T_Xacc": 11.21, "T_Zacc": 4.31},
      {"ring": "2", "level": 2, "T_Xacc": 11.18, "T_Zacc": 3.77}, {"ring": "2", "level": 2, "T_Xacc": 10.8, "T_Zacc": 3.36},
      {"ring": "2", "level": 2, "T_Xacc": 10.42, "T_Zacc": 3.09}, {"ring": "2", "level": 2, "T_Xacc": 9.79, "T_Zacc": 2.88},
      {"ring": "2", "level": 2, "T_Xacc": 9.28, "T_Zacc": 2.75}, {"ring": "2", "level": 2, "T_Xacc": 8.78, "T_Zacc": 2.82},
      {"ring": "2", "level": 2, "T_Xacc": 8.27, "T_Zacc": 3.02}, {"ring": "2", "level": 2, "T_Xacc": 7.76, "T_Zacc": 3.09},
      {"ring": "2", "level": 2, "T_Xacc": 7.01, "T_Zacc": 3.15}, {"ring": "2", "level": 2, "T_Xacc": 6.25, "T_Zacc": 3.25},
      {"ring": "2", "level": 2, "T_Xacc": 5.93, "T_Zacc": 3.39},
      {"ring": "3", "level": 3, "T_Xacc": 6.06, "T_Zacc": 3.66}, {"ring": "3", "level": 3, "T_Xacc": 6.25, "T_Zacc": 4.04},
      {"ring": "3", "level": 3, "T_Xacc": 6.69, "T_Zacc": 4.38}, {"ring": "3", "level": 3, "T_Xacc": 6.94, "T_Zacc": 4.79},
      {"ring": "3", "level": 3, "T_Xacc": 7.07, "T_Zacc": 5.26}, {"ring": "3", "level": 3, "T_Xacc": 7.26, "T_Zacc": 5.74},
      {"ring": "3", "level": 3, "T_Xacc": 7.7, "T_Zacc": 6.08}, {"ring": "3", "level": 3, "T_Xacc": 8.27, "T_Zacc": 6.21},
      {"ring": "3", "level": 3, "T_Xacc": 8.71, "T_Zacc": 6.17}, {"ring": "3", "level": 3, "T_Xacc": 9.03, "T_Zacc": 5.8},
      {"ring": "3", "level": 3, "T_Xacc": 9.41, "T_Zacc": 5.33}, {"ring": "3", "level": 3, "T_Xacc": 9.91, "T_Zacc": 4.99},
      {"ring": "3", "level": 3, "T_Xacc": 10.55, "T_Zacc": 4.79}, {"ring": "3", "level": 3, "T_Xacc": 10.74, "T_Zacc": 4.38},
      {"ring": "3", "level": 3, "T_Xacc": 10.61, "T_Zacc": 4.04}, {"ring": "3", "level": 3, "T_Xacc": 10.42, "T_Zacc": 3.77},
      {"ring": "3", "level": 3, "T_Xacc": 10.04, "T_Zacc": 3.49}, {"ring": "3", "level": 3, "T_Xacc": 9.79, "T_Zacc": 3.29},
      {"ring": "3", "level": 3, "T_Xacc": 9.28, "T_Zacc": 3.09}, {"ring": "3", "level": 3, "T_Xacc": 8.78, "T_Zacc": 3.15},
      {"ring": "3", "level": 3, "T_Xacc": 8.27, "T_Zacc": 3.36}, {"ring": "3", "level": 3, "T_Xacc": 7.76, "T_Zacc": 3.29},
      {"ring": "3", "level": 3, "T_Xacc": 7.01, "T_Zacc": 3.36}, {"ring": "3", "level": 3, "T_Xacc": 6.37, "T_Zacc": 3.39},
      {"ring": "3", "level": 3, "T_Xacc": 6.12, "T_Zacc": 3.49},
      {"ring": "4", "level": 4, "T_Xacc": 6.25, "T_Zacc": 3.7}, {"ring": "4", "level": 4, "T_Xacc": 6.44, "T_Zacc": 4.04},
      {"ring": "4", "level": 4, "T_Xacc": 6.88, "T_Zacc": 4.31}, {"ring": "4", "level": 4, "T_Xacc": 7.13, "T_Zacc": 4.72},
      {"ring": "4", "level": 4, "T_Xacc": 7.26, "T_Zacc": 5.19}, {"ring": "4", "level": 4, "T_Xacc": 7.45, "T_Zacc": 5.67},
      {"ring": "4", "level": 4, "T_Xacc": 7.83, "T_Zacc": 6.01}, {"ring": "4", "level": 4, "T_Xacc": 8.27, "T_Zacc": 6.1},
      {"ring": "4", "level": 4, "T_Xacc": 8.65, "T_Zacc": 6.05}, {"ring": "4", "level": 4, "T_Xacc": 8.9, "T_Zacc": 5.67},
      {"ring": "4", "level": 4, "T_Xacc": 9.28, "T_Zacc": 5.19}, {"ring": "4", "level": 4, "T_Xacc": 9.66, "T_Zacc": 4.85},
      {"ring": "4", "level": 4, "T_Xacc": 9.79, "T_Zacc": 4.51}, {"ring": "4", "level": 4, "T_Xacc": 9.6, "T_Zacc": 4.17},
      {"ring": "4", "level": 4, "T_Xacc": 9.47, "T_Zacc": 4.04}, {"ring": "4", "level": 4, "T_Xacc": 9.66, "T_Zacc": 3.7},
      {"ring": "4", "level": 4, "T_Xacc": 9.6, "T_Zacc": 3.36}, {"ring": "4", "level": 4, "T_Xacc": 9.22, "T_Zacc": 3.22},
      {"ring": "4", "level": 4, "T_Xacc": 8.9, "T_Zacc": 3.43}, {"ring": "4", "level": 4, "T_Xacc": 8.9, "T_Zacc": 3.77},
      {"ring": "4", "level": 4, "T_Xacc": 8.59, "T_Zacc": 3.63}, {"ring": "4", "level": 4, "T_Xacc": 8.14, "T_Zacc": 3.56},
      {"ring": "4", "level": 4, "T_Xacc": 7.51, "T_Zacc": 3.49}, {"ring": "4", "level": 4, "T_Xacc": 6.75, "T_Zacc": 3.49},
      {"ring": "4", "level": 4, "T_Xacc": 6.37, "T_Zacc": 3.56},
      {"ring": "5", "level": 5, "T_Xacc": 6.56, "T_Zacc": 3.77}, {"ring": "5", "level": 5, "T_Xacc": 6.75, "T_Zacc": 4.11},
      {"ring": "5", "level": 5, "T_Xacc": 7.13, "T_Zacc": 4.38}, {"ring": "5", "level": 5, "T_Xacc": 7.38, "T_Zacc": 4.79},
      {"ring": "5", "level": 5, "T_Xacc": 7.51, "T_Zacc": 5.26}, {"ring": "5", "level": 5, "T_Xacc": 7.7, "T_Zacc": 5.74},
      {"ring": "5", "level": 5, "T_Xacc": 8.02, "T_Zacc": 5.97}, {"ring": "5", "level": 5, "T_Xacc": 8.4, "T_Zacc": 6.01},
      {"ring": "5", "level": 5, "T_Xacc": 8.71, "T_Zacc": 5.87}, {"ring": "5", "level": 5, "T_Xacc": 8.9, "T_Zacc": 5.46},
      {"ring": "5", "level": 5, "T_Xacc": 9.16, "T_Zacc": 4.99}, {"ring": "5", "level": 5, "T_Xacc": 9.41, "T_Zacc": 4.58},
      {"ring": "5", "level": 5, "T_Xacc": 9.56, "T_Zacc": 4.31}, {"ring": "5", "level": 5, "T_Xacc": 9.43, "T_Zacc": 4.06},
      {"ring": "5", "level": 5, "T_Xacc": 8.78, "T_Zacc": 4.01}, {"ring": "5", "level": 5, "T_Xacc": 8.02, "T_Zacc": 3.97},
      {"ring": "5", "level": 5, "T_Xacc": 7.64, "T_Zacc": 3.83}, {"ring": "5", "level": 5, "T_Xacc": 7.26, "T_Zacc": 3.7},
      {"ring": "5", "level": 5, "T_Xacc": 6.75, "T_Zacc": 3.66},
      {"ring": "6", "level": 6, "T_Xacc": 6.75, "T_Zacc": 3.83}, {"ring": "6", "level": 6, "T_Xacc": 7.01, "T_Zacc": 4.17},
      {"ring": "6", "level": 6, "T_Xacc": 7.45, "T_Zacc": 4.45}, {"ring": "6", "level": 6, "T_Xacc": 7.57, "T_Zacc": 4.92},
      {"ring": "6", "level": 6, "T_Xacc": 7.66, "T_Zacc": 5.42}, {"ring": "6", "level": 6, "T_Xacc": 7.89, "T_Zacc": 5.74},
      {"ring": "6", "level": 6, "T_Xacc": 8.21, "T_Zacc": 5.87}, {"ring": "6", "level": 6, "T_Xacc": 8.59, "T_Zacc": 5.8},
      {"ring": "6", "level": 6, "T_Xacc": 8.84, "T_Zacc": 5.46}, {"ring": "6", "level": 6, "T_Xacc": 9.03, "T_Zacc": 4.99},
      {"ring": "6", "level": 6, "T_Xacc": 9.09, "T_Zacc": 4.51}, {"ring": "6", "level": 6, "T_Xacc": 8.84, "T_Zacc": 4.24},
      {"ring": "6", "level": 6, "T_Xacc": 8.27, "T_Zacc": 4.2}, {"ring": "6", "level": 6, "T_Xacc": 7.76, "T_Zacc": 4.11},
      {"ring": "6", "level": 6, "T_Xacc": 7.32, "T_Zacc": 3.9}, {"ring": "6", "level": 6, "T_Xacc": 6.94, "T_Zacc": 3.77},
      {"ring": "7", "level": 7, "T_Xacc": 7.64, "T_Zacc": 4.42}, {"ring": "7", "level": 7, "T_Xacc": 7.71, "T_Zacc": 4.99},
      {"ring": "7", "level": 7, "T_Xacc": 7.81, "T_Zacc": 5.51}, {"ring": "7", "level": 7, "T_Xacc": 8.14, "T_Zacc": 5.67},
      {"ring": "7", "level": 7, "T_Xacc": 8.52, "T_Zacc": 5.6}, {"ring": "7", "level": 7, "T_Xacc": 8.78, "T_Zacc": 5.33},
      {"ring": "7", "level": 7, "T_Xacc": 8.88, "T_Zacc": 4.85}, {"ring": "7", "level": 7, "T_Xacc": 8.78, "T_Zacc": 4.45},
      {"ring": "7", "level": 7, "T_Xacc": 8.27, "T_Zacc": 4.31}, {"ring": "7", "level": 7, "T_Xacc": 7.74, "T_Zacc": 4.23},
      {"ring": "8", "level": 8, "T_Xacc": 7.76, "T_Zacc": 4.65}, {"ring": "8", "level": 8, "T_Xacc": 7.8, "T_Zacc": 5.12},
      {"ring": "8", "level": 8, "T_Xacc": 7.87, "T_Zacc": 5.4}, {"ring": "8", "level": 8, "T_Xacc": 8.14, "T_Zacc": 5.53},
      {"ring": "8", "level": 8, "T_Xacc": 8.46, "T_Zacc": 5.46}, {"ring": "8", "level": 8, "T_Xacc": 8.67, "T_Zacc": 5.19},
      {"ring": "8", "level": 8, "T_Xacc": 8.71, "T_Zacc": 4.72}, {"ring": "8", "level": 8, "T_Xacc": 8.56, "T_Zacc": 4.5},
      {"ring": "8", "level": 8, "T_Xacc": 8.14, "T_Zacc": 4.42}, {"ring": "8", "level": 8, "T_Xacc": 7.8, "T_Zacc": 4.45},
      {"ring": "9", "level": 9, "T_Xacc": 7.89, "T_Zacc": 4.79}, {"ring": "9", "level": 9, "T_Xacc": 7.92, "T_Zacc": 5.19},
      {"ring": "9", "level": 9, "T_Xacc": 8.02, "T_Zacc": 5.37}, {"ring": "9", "level": 9, "T_Xacc": 8.21, "T_Zacc": 5.4},
      {"ring": "9", "level": 9, "T_Xacc": 8.43, "T_Zacc": 5.29}, {"ring": "9", "level": 9, "T_Xacc": 8.59, "T_Zacc": 4.99},
      {"ring": "9", "level": 9, "T_Xacc": 8.56, "T_Zacc": 4.72}, {"ring": "9", "level": 9, "T_Xacc": 8.4, "T_Zacc": 4.58},
      {"ring": "9", "level": 9, "T_Xacc": 8.08, "T_Zacc": 4.55}, {"ring": "9", "level": 9, "T_Xacc": 7.89, "T_Zacc": 4.64},
      {"ring": "10", "level": 10, "T_Xacc": 7.99, "T_Zacc": 4.85}, {"ring": "10", "level": 10, "T_Xacc": 8.02, "T_Zacc": 5.1},
      {"ring": "10", "level": 10, "T_Xacc": 8.17, "T_Zacc": 5.19}, {"ring": "10", "level": 10, "T_Xacc": 8.37, "T_Zacc": 5.06},
      {"ring": "10", "level": 10, "T_Xacc": 8.46, "T_Zacc": 4.85}, {"ring": "10", "level": 10, "T_Xacc": 8.33, "T_Zacc": 4.68},
      {"ring": "10", "level": 10, "T_Xacc": 8.08, "T_Zacc": 4.66}
    ],
    "c32": [
      {"ring": "1", "level": 1, "T_Yacc": -4.99, "T_Zacc": 3.63}, {"ring": "1", "level": 1, "T_Yacc": -4.95, "T_Zacc": 3.83},
      {"ring": "1", "level": 1, "T_Yacc": -4.71, "T_Zacc": 4.17}, {"ring": "1", "level": 1, "T_Yacc": -4.43, "T_Zacc": 4.51},
      {"ring": "1", "level": 1, "T_Yacc": -4.05, "T_Zacc": 4.79}, {"ring": "1", "level": 1, "T_Yacc": -3.82, "T_Zacc": 4.99},
      {"ring": "1", "level": 1, "T_Yacc": -3.72, "T_Zacc": 5.4}, {"ring": "1", "level": 1, "T_Yacc": -3.68, "T_Zacc": 5.94},
      {"ring": "1", "level": 1, "T_Yacc": -3.49, "T_Zacc": 6.28}, {"ring": "1", "level": 1, "T_Yacc": -3.11, "T_Zacc": 6.51},
      {"ring": "1", "level": 1, "T_Yacc": -2.55, "T_Zacc": 6.48}, {"ring": "1", "level": 1, "T_Yacc": -1.98, "T_Zacc": 6.21},
      {"ring": "1", "level": 1, "T_Yacc": -1.42, "T_Zacc": 6.08}, {"ring": "1", "level": 1, "T_Yacc": -0.85, "T_Zacc": 5.94},
      {"ring": "1", "level": 1, "T_Yacc": -0.29, "T_Zacc": 5.74}, {"ring": "1", "level": 1, "T_Yacc": 0.04, "T_Zacc": 5.4},
      {"ring": "1", "level": 1, "T_Yacc": 0.19, "T_Zacc": 4.99}, {"ring": "1", "level": 1, "T_Yacc": 0.28, "T_Zacc": 4.58},
      {"ring": "1", "level": 1, "T_Yacc": 0.52, "T_Zacc": 4.17}, {"ring": "1", "level": 1, "T_Yacc": 0.66, "T_Zacc": 3.77},
      {"ring": "1", "level": 1, "T_Yacc": 0.7, "T_Zacc": 3.22}, {"ring": "1", "level": 1, "T_Yacc": 0.66, "T_Zacc": 2.68},
      {"ring": "1", "level": 1, "T_Yacc": 0.75, "T_Zacc": 2.41}, {"ring": "1", "level": 1, "T_Yacc": 0.66, "T_Zacc": 2.2},
      {"ring": "1", "level": 1, "T_Yacc": 0.28, "T_Zacc": 2.16}, {"ring": "1", "level": 1, "T_Yacc": -0.29, "T_Zacc": 2.27},
      {"ring": "1", "level": 1, "T_Yacc": -0.66, "T_Zacc": 2.34}, {"ring": "1", "level": 1, "T_Yacc": -1.13, "T_Zacc": 2.48},
      {"ring": "1", "level": 1, "T_Yacc": -1.7, "T_Zacc": 2.61}, {"ring": "1", "level": 1, "T_Yacc": -2.26, "T_Zacc": 2.82},
      {"ring": "1", "level": 1, "T_Yacc": -2.73, "T_Zacc": 3.02}, {"ring": "1", "level": 1, "T_Yacc": -3.11, "T_Zacc": 3.09},
      {"ring": "1", "level": 1, "T_Yacc": -3.39, "T_Zacc": 2.88}, {"ring": "1", "level": 1, "T_Yacc": -3.68, "T_Zacc": 2.79},
      {"ring": "1", "level": 1, "T_Yacc": -4.05, "T_Zacc": 2.88}, {"ring": "1", "level": 1, "T_Yacc": -4.52, "T_Zacc": 3.09},
      {"ring": "1", "level": 1, "T_Yacc": -4.9, "T_Zacc": 3.36},
      {"ring": "2", "level": 2, "T_Yacc": -4.33, "T_Zacc": 3.63}, {"ring": "2", "level": 2, "T_Yacc": -4.15, "T_Zacc": 3.9},
      {"ring": "2", "level": 2, "T_Yacc": -3.86, "T_Zacc": 4.11}, {"ring": "2", "level": 2, "T_Yacc": -3.63, "T_Zacc": 4.38},
      {"ring": "2", "level": 2, "T_Yacc": -3.53, "T_Zacc": 4.85}, {"ring": "2", "level": 2, "T_Yacc": -3.53, "T_Zacc": 5.46},
      {"ring": "2", "level": 2, "T_Yacc": -3.49, "T_Zacc": 5.94}, {"ring": "2", "level": 2, "T_Yacc": -3.2, "T_Zacc": 6.31},
      {"ring": "2", "level": 2, "T_Yacc": -2.73, "T_Zacc": 6.37}, {"ring": "2", "level": 2, "T_Yacc": -2.17, "T_Zacc": 6.1},
      {"ring": "2", "level": 2, "T_Yacc": -1.6, "T_Zacc": 6.01}, {"ring": "2", "level": 2, "T_Yacc": -1.04, "T_Zacc": 5.87},
      {"ring": "2", "level": 2, "T_Yacc": -0.47, "T_Zacc": 5.67}, {"ring": "2", "level": 2, "T_Yacc": -0.1, "T_Zacc": 5.33},
      {"ring": "2", "level": 2, "T_Yacc": 0.07, "T_Zacc": 4.92}, {"ring": "2", "level": 2, "T_Yacc": 0.23, "T_Zacc": 4.51},
      {"ring": "2", "level": 2, "T_Yacc": 0.39, "T_Zacc": 4.17}, {"ring": "2", "level": 2, "T_Yacc": 0.49, "T_Zacc": 3.77},
      {"ring": "2", "level": 2, "T_Yacc": 0.45, "T_Zacc": 3.22}, {"ring": "2", "level": 2, "T_Yacc": 0.23, "T_Zacc": 2.79},
      {"ring": "2", "level": 2, "T_Yacc": -0.1, "T_Zacc": 2.71}, {"ring": "2", "level": 2, "T_Yacc": -0.66, "T_Zacc": 2.71},
      {"ring": "2", "level": 2, "T_Yacc": -1.23, "T_Zacc": 2.79}, {"ring": "2", "level": 2, "T_Yacc": -1.79, "T_Zacc": 2.95},
      {"ring": "2", "level": 2, "T_Yacc": -2.36, "T_Zacc": 3.15}, {"ring": "2", "level": 2, "T_Yacc": -2.83, "T_Zacc": 3.39},
      {"ring": "2", "level": 2, "T_Yacc": -3.3, "T_Zacc": 3.49}, {"ring": "2", "level": 2, "T_Yacc": -3.77, "T_Zacc": 3.56},
      {"ring": "2", "level": 2, "T_Yacc": -4.19, "T_Zacc": 3.56},
      {"ring": "3", "level": 3, "T_Yacc": -3.58, "T_Zacc": 4.04}, {"ring": "3", "level": 3, "T_Yacc": -3.49, "T_Zacc": 4.45},
      {"ring": "3", "level": 3, "T_Yacc": -3.39, "T_Zacc": 4.99}, {"ring": "3", "level": 3, "T_Yacc": -3.39, "T_Zacc": 5.53},
      {"ring": "3", "level": 3, "T_Yacc": -3.3, "T_Zacc": 5.97}, {"ring": "3", "level": 3, "T_Yacc": -3.02, "T_Zacc": 6.21},
      {"ring": "3", "level": 3, "T_Yacc": -2.55, "T_Zacc": 6.18}, {"ring": "3", "level": 3, "T_Yacc": -1.98, "T_Zacc": 5.94},
      {"ring": "3", "level": 3, "T_Yacc": -1.42, "T_Zacc": 5.87}, {"ring": "3", "level": 3, "T_Yacc": -0.85, "T_Zacc": 5.69},
      {"ring": "3", "level": 3, "T_Yacc": -0.38, "T_Zacc": 5.42}, {"ring": "3", "level": 3, "T_Yacc": -0.1, "T_Zacc": 5.06},
      {"ring": "3", "level": 3, "T_Yacc": 0.04, "T_Zacc": 4.65}, {"ring": "3", "level": 3, "T_Yacc": 0.19, "T_Zacc": 4.17},
      {"ring": "3", "level": 3, "T_Yacc": 0.26, "T_Zacc": 3.77}, {"ring": "3", "level": 3, "T_Yacc": 0.17, "T_Zacc": 3.33},
      {"ring": "3", "level": 3, "T_Yacc": -0.05, "T_Zacc": 2.98}, {"ring": "3", "level": 3, "T_Yacc": -0.47, "T_Zacc": 2.95},
      {"ring": "3", "level": 3, "T_Yacc": -1.04, "T_Zacc": 3.02}, {"ring": "3", "level": 3, "T_Yacc": -1.6, "T_Zacc": 3.15},
      {"ring": "3", "level": 3, "T_Yacc": -2.17, "T_Zacc": 3.36}, {"ring": "3", "level": 3, "T_Yacc": -2.64, "T_Zacc": 3.56},
      {"ring": "3", "level": 3, "T_Yacc": -3.11, "T_Zacc": 3.77}, {"ring": "3", "level": 3, "T_Yacc": -3.49, "T_Zacc": 3.83},
      {"ring": "4", "level": 4, "T_Yacc": -3.2, "T_Zacc": 4.24}, {"ring": "4", "level": 4, "T_Yacc": -3.2, "T_Zacc": 4.85},
      {"ring": "4", "level": 4, "T_Yacc": -3.25, "T_Zacc": 5.53}, {"ring": "4", "level": 4, "T_Yacc": -3.16, "T_Zacc": 5.87},
      {"ring": "4", "level": 4, "T_Yacc": -2.83, "T_Zacc": 6.1}, {"ring": "4", "level": 4, "T_Yacc": -2.36, "T_Zacc": 6.05},
      {"ring": "4", "level": 4, "T_Yacc": -1.79, "T_Zacc": 5.8}, {"ring": "4", "level": 4, "T_Yacc": -1.23, "T_Zacc": 5.67},
      {"ring": "4", "level": 4, "T_Yacc": -0.66, "T_Zacc": 5.46}, {"ring": "4", "level": 4, "T_Yacc": -0.29, "T_Zacc": 5.12},
      {"ring": "4", "level": 4, "T_Yacc": -0.14, "T_Zacc": 4.58}, {"ring": "4", "level": 4, "T_Yacc": 0.0, "T_Zacc": 4.04},
      {"ring": "4", "level": 4, "T_Yacc": -0.02, "T_Zacc": 3.56}, {"ring": "4", "level": 4, "T_Yacc": -0.24, "T_Zacc": 3.22},
      {"ring": "4", "level": 4, "T_Yacc": -0.66, "T_Zacc": 3.15}, {"ring": "4", "level": 4, "T_Yacc": -1.23, "T_Zacc": 3.22},
      {"ring": "4", "level": 4, "T_Yacc": -1.79, "T_Zacc": 3.36}, {"ring": "4", "level": 4, "T_Yacc": -2.26, "T_Zacc": 3.56},
      {"ring": "4", "level": 4, "T_Yacc": -2.64, "T_Zacc": 3.83}, {"ring": "4", "level": 4, "T_Yacc": -2.92, "T_Zacc": 3.97},
      {"ring": "5", "level": 5, "T_Yacc": -2.97, "T_Zacc": 4.31}, {"ring": "5", "level": 5, "T_Yacc": -3.03, "T_Zacc": 4.99},
      {"ring": "5", "level": 5, "T_Yacc": -3.06, "T_Zacc": 5.67}, {"ring": "5", "level": 5, "T_Yacc": -2.83, "T_Zacc": 6.01},
      {"ring": "5", "level": 5, "T_Yacc": -2.45, "T_Zacc": 5.98}, {"ring": "5", "level": 5, "T_Yacc": -1.98, "T_Zacc": 5.6},
      {"ring": "5", "level": 5, "T_Yacc": -1.42, "T_Zacc": 5.49}, {"ring": "5", "level": 5, "T_Yacc": -0.85, "T_Zacc": 5.33},
      {"ring": "5", "level": 5, "T_Yacc": -0.47, "T_Zacc": 4.99}, {"ring": "5", "level": 5, "T_Yacc": -0.33, "T_Zacc": 4.45},
      {"ring": "5", "level": 5, "T_Yacc": -0.24, "T_Zacc": 3.9}, {"ring": "5", "level": 5, "T_Yacc": -0.33, "T_Zacc": 3.43},
      {"ring": "5", "level": 5, "T_Yacc": -0.76, "T_Zacc": 3.29}, {"ring": "5", "level": 5, "T_Yacc": -1.32, "T_Zacc": 3.39},
      {"ring": "5", "level": 5, "T_Yacc": -1.89, "T_Zacc": 3.63}, {"ring": "5", "level": 5, "T_Yacc": -2.26, "T_Zacc": 3.9},
      {"ring": "5", "level": 5, "T_Yacc": -2.55, "T_Zacc": 4.24}, {"ring": "5", "level": 5, "T_Yacc": -2.78, "T_Zacc": 4.11},
      {"ring": "6", "level": 6, "T_Yacc": -2.92, "T_Zacc": 5.67}, {"ring": "6", "level": 6, "T_Yacc": -2.78, "T_Zacc": 5.94},
      {"ring": "6", "level": 6, "T_Yacc": -2.26, "T_Zacc": 5.83}, {"ring": "6", "level": 6, "T_Yacc": -1.79, "T_Zacc": 5.29},
      {"ring": "6", "level": 6, "T_Yacc": -1.23, "T_Zacc": 5.19}, {"ring": "6", "level": 6, "T_Yacc": -0.66, "T_Zacc": 5.06},
      {"ring": "6", "level": 6, "T_Yacc": -0.52, "T_Zacc": 4.58}, {"ring": "6", "level": 6, "T_Yacc": -0.45, "T_Zacc": 4.04},
      {"ring": "6", "level": 6, "T_Yacc": -0.55, "T_Zacc": 3.56}, {"ring": "6", "level": 6, "T_Yacc": -0.99, "T_Zacc": 3.43},
      {"ring": "6", "level": 6, "T_Yacc": -1.6, "T_Zacc": 3.63}, {"ring": "6", "level": 6, "T_Yacc": -1.98, "T_Zacc": 3.9},
      {"ring": "6", "level": 6, "T_Yacc": -2.17, "T_Zacc": 4.31}, {"ring": "6", "level": 6, "T_Yacc": -2.45, "T_Zacc": 4.72},
      {"ring": "6", "level": 6, "T_Yacc": -2.73, "T_Zacc": 4.79}, {"ring": "6", "level": 6, "T_Yacc": -2.87, "T_Zacc": 5.12},
      {"ring": "7a", "level": 8, "T_Yacc": -2.83, "T_Zacc": 5.53}, {"ring": "7a", "level": 8, "T_Yacc": -2.69, "T_Zacc": 5.74},
      {"ring": "7a", "level": 8, "T_Yacc": -2.45, "T_Zacc": 5.76}, {"ring": "7a", "level": 8, "T_Yacc": -2.31, "T_Zacc": 5.56},
      {"ring": "7a", "level": 8, "T_Yacc": -2.36, "T_Zacc": 5.29}, {"ring": "7a", "level": 8, "T_Yacc": -2.59, "T_Zacc": 5.21},
      {"ring": "7a", "level": 8, "T_Yacc": -2.81, "T_Zacc": 5.31},
      {"ring": "7b", "level": 8, "T_Yacc": -1.74, "T_Zacc": 4.58}, {"ring": "7b", "level": 8, "T_Yacc": -1.6, "T_Zacc": 4.92},
      {"ring": "7b", "level": 8, "T_Yacc": -1.23, "T_Zacc": 5.06}, {"ring": "7b", "level": 8, "T_Yacc": -0.8, "T_Zacc": 4.92},
      {"ring": "7b", "level": 8, "T_Yacc": -0.71, "T_Zacc": 4.45}, {"ring": "7b", "level": 8, "T_Yacc": -0.76, "T_Zacc": 3.83},
      {"ring": "7b", "level": 8, "T_Yacc": -1.04, "T_Zacc": 3.63}, {"ring": "7b", "level": 8, "T_Yacc": -1.42, "T_Zacc": 3.63},
      {"ring": "7b", "level": 8, "T_Yacc": -1.7, "T_Zacc": 3.97},
      {"ring": "8a", "level": 9, "T_Yacc": -2.71, "T_Zacc": 5.53}, {"ring": "8a", "level": 9, "T_Yacc": -2.59, "T_Zacc": 5.64},
      {"ring": "8a", "level": 9, "T_Yacc": -2.45, "T_Zacc": 5.63}, {"ring": "8a", "level": 9, "T_Yacc": -2.4, "T_Zacc": 5.46},
      {"ring": "8a", "level": 9, "T_Yacc": -2.5, "T_Zacc": 5.33}, {"ring": "8a", "level": 9, "T_Yacc": -2.66, "T_Zacc": 5.37},
      {"ring": "8b", "level": 9, "T_Yacc": -1.6, "T_Zacc": 4.51}, {"ring": "8b", "level": 9, "T_Yacc": -1.46, "T_Zacc": 4.81},
      {"ring": "8b", "level": 9, "T_Yacc": -1.13, "T_Zacc": 4.88}, {"ring": "8b", "level": 9, "T_Yacc": -0.85, "T_Zacc": 4.69},
      {"ring": "8b", "level": 9, "T_Yacc": -0.85, "T_Zacc": 4.24}, {"ring": "8b", "level": 9, "T_Yacc": -0.99, "T_Zacc": 3.83},
      {"ring": "8b", "level": 9, "T_Yacc": -1.27, "T_Zacc": 3.77}, {"ring": "8b", "level": 9, "T_Yacc": -1.51, "T_Zacc": 4.04},
      {"ring": "9", "level": 10, "T_Yacc": -1.42, "T_Zacc": 4.4}, {"ring": "9", "level": 10, "T_Yacc": -1.32, "T_Zacc": 4.64},
      {"ring": "9", "level": 10, "T_Yacc": -1.08, "T_Zacc": 4.7}, {"ring": "9", "level": 10, "T_Yacc": -0.95, "T_Zacc": 4.55},
      {"ring": "9", "level": 10, "T_Yacc": -0.98, "T_Zacc": 4.3}, {"ring": "9", "level": 10, "T_Yacc": -1.16, "T_Zacc": 4.1},
      {"ring": "9", "level": 10, "T_Yacc": -1.32, "T_Zacc": 4.08}, {"ring": "9", "level": 10, "T_Yacc": -1.4, "T_Zacc": 4.22}
    ]
  },
  "columns": 3,
  "bounds": "flush",
  "spacing": {"row": 20, "column": 25},
  "concat": [
    {
      "width": 322, "height": 148.5,
      "layer": [
        {
          "data": {"values": [{}]},
          "mark": {"type": "point", "opacity": 0},
          "encoding": {
            "y": {"datum": 9, "type": "quantitative", "scale": {"domain": [4.81, 13.95], "nice": false, "zero": false},
                  "axis": {"values": [6, 8, 10, 12], "title": "T_Xacc", "labelPadding": 8, "titlePadding": 3, "minExtent": 20, "maxExtent": 20}}
          }
        },
        {
          "data": {"name": "kde_x"},
          "mark": {"type": "line", "color": "#4c72b0", "strokeWidth": 3, "interpolate": "monotone"},
          "encoding": {
            "x": {"field": "T_Xacc", "type": "quantitative", "scale": {"domain": [3.21, 15.43], "nice": false, "zero": false},
                  "axis": {"values": [4, 6, 8, 10, 12, 14], "labels": false, "title": null, "minExtent": 0, "maxExtent": 0}},
            "y": {"field": "density", "type": "quantitative", "scale": {"domain": [-0.07, 1.415], "nice": false, "zero": false}, "axis": null}
          }
        }
      ],
      "resolve": {"scale": {"y": "independent"}}
    },
    {
      "width": 322, "height": 148.5,
      "data": {"name": "s12"},
      "mark": {"type": "circle", "size": 40, "color": "#4c72b0", "opacity": 1},
      "encoding": {
        "x": {"field": "T_Yacc", "type": "quantitative", "scale": {"domain": [-6.49, 2.57], "nice": false, "zero": false},
              "axis": {"values": [-6, -4, -2, 0, 2], "labels": false, "title": null, "minExtent": 0, "maxExtent": 0}},
        "y": {"field": "T_Xacc", "type": "quantitative", "scale": {"domain": [4.81, 13.95], "nice": false, "zero": false},
              "axis": {"values": [6, 8, 10, 12], "labels": false, "title": null, "minExtent": 0, "maxExtent": 0}}
      }
    },
    {
      "width": 322, "height": 148.5,
      "data": {"name": "s13"},
      "mark": {"type": "circle", "size": 40, "color": "#4c72b0", "opacity": 1},
      "encoding": {
        "x": {"field": "T_Zacc", "type": "quantitative", "scale": {"domain": [0.75, 7.47], "nice": false, "zero": false},
              "axis": {"values": [1, 2, 3, 4, 5, 6, 7], "labels": false, "title": null, "minExtent": 0, "maxExtent": 0}},
        "y": {"field": "T_Xacc", "type": "quantitative", "scale": {"domain": [4.81, 13.95], "nice": false, "zero": false},
              "axis": {"values": [6, 8, 10, 12], "labels": false, "title": null, "minExtent": 0, "maxExtent": 0}}
      }
    },
    {
      "width": 322, "height": 148.5,
      "data": {"name": "c21"},
      "mark": {"type": "line", "interpolate": "cardinal-closed", "strokeWidth": 1.6},
      "encoding": {
        "x": {"field": "T_Xacc", "type": "quantitative", "scale": {"domain": [3.21, 15.43], "nice": false, "zero": false},
              "axis": {"values": [4, 6, 8, 10, 12, 14], "labels": false, "title": null, "minExtent": 0, "maxExtent": 0}},
        "y": {"field": "T_Yacc", "type": "quantitative", "scale": {"domain": [-6.03, 2.24], "nice": false, "zero": false},
              "axis": {"values": [-6, -4, -2, 0, 2], "title": "T_Yacc", "labelPadding": 8, "titlePadding": 3, "minExtent": 20, "maxExtent": 20}},
        "color": {"field": "level", "type": "ordinal", "legend": null,
                  "scale": {"domain": [1, 2, 3, 4, 5, 6, 7, 8, 9, 10, 11],
                            "range": ["#333333", "#304354", "#2d5473", "#2b6490", "#2d73aa", "#3983bd", "#4f93c8", "#69a5d3", "#87b8dd", "#a3cae7", "#bcd9ee"]}},
        "detail": {"field": "ring"},
        "order": {"value": null}
      }
    },
    {
      "width": 322, "height": 148.5,
      "layer": [
        {
          "data": {"values": [{}]},
          "mark": {"type": "point", "opacity": 0},
          "encoding": {
            "y": {"datum": 0, "type": "quantitative", "scale": {"domain": [-6.03, 2.24], "nice": false, "zero": false},
                  "axis": {"values": [-6, -4, -2, 0, 2], "labels": false, "title": null, "minExtent": 0, "maxExtent": 0}}
          }
        },
        {
          "data": {"name": "kde_y"},
          "mark": {"type": "line", "color": "#4c72b0", "strokeWidth": 3, "interpolate": "monotone"},
          "encoding": {
            "x": {"field": "T_Yacc", "type": "quantitative", "scale": {"domain": [-6.49, 2.57], "nice": false, "zero": false},
                  "axis": {"values": [-6, -4, -2, 0, 2], "labels": false, "title": null, "minExtent": 0, "maxExtent": 0}},
            "y": {"field": "density", "type": "quantitative", "scale": {"domain": [-0.07, 1.415], "nice": false, "zero": false}, "axis": null}
          }
        }
      ],
      "resolve": {"scale": {"y": "independent"}}
    },
    {
      "width": 322, "height": 148.5,
      "data": {"name": "s23"},
      "mark": {"type": "circle", "size": 40, "color": "#4c72b0", "opacity": 1},
      "encoding": {
        "x": {"field": "T_Zacc", "type": "quantitative", "scale": {"domain": [0.75, 7.47], "nice": false, "zero": false},
              "axis": {"values": [1, 2, 3, 4, 5, 6, 7], "labels": false, "title": null, "minExtent": 0, "maxExtent": 0}},
        "y": {"field": "T_Yacc", "type": "quantitative", "scale": {"domain": [-6.03, 2.24], "nice": false, "zero": false},
              "axis": {"values": [-6, -4, -2, 0, 2], "labels": false, "title": null, "minExtent": 0, "maxExtent": 0}}
      }
    },
    {
      "width": 322, "height": 148.5,
      "data": {"name": "c31"},
      "mark": {"type": "line", "interpolate": "cardinal-closed", "strokeWidth": 1.6},
      "encoding": {
        "x": {"field": "T_Xacc", "type": "quantitative", "scale": {"domain": [3.21, 15.43], "nice": false, "zero": false},
              "axis": {"values": [4, 6, 8, 10, 12, 14], "title": "T_Xacc", "labelPadding": 5, "titlePadding": 3}},
        "y": {"field": "T_Zacc", "type": "quantitative", "scale": {"domain": [1.09, 7.16], "nice": false, "zero": false},
              "axis": {"values": [2, 3, 4, 5, 6, 7], "title": "T_Zacc", "labelPadding": 8, "titlePadding": 3, "minExtent": 20, "maxExtent": 20}},
        "color": {"field": "level", "type": "ordinal", "legend": null,
                  "scale": {"domain": [1, 2, 3, 4, 5, 6, 7, 8, 9, 10, 11],
                            "range": ["#333333", "#304354", "#2d5473", "#2b6490", "#2d73aa", "#3983bd", "#4f93c8", "#69a5d3", "#87b8dd", "#a3cae7", "#bcd9ee"]}},
        "detail": {"field": "ring"},
        "order": {"value": null}
      }
    },
    {
      "width": 322, "height": 148.5,
      "data": {"name": "c32"},
      "mark": {"type": "line", "interpolate": "cardinal-closed", "strokeWidth": 1.6},
      "encoding": {
        "x": {"field": "T_Yacc", "type": "quantitative", "scale": {"domain": [-6.49, 2.57], "nice": false, "zero": false},
              "axis": {"values": [-6, -4, -2, 0, 2], "title": "T_Yacc", "labelPadding": 5, "titlePadding": 3}},
        "y": {"field": "T_Zacc", "type": "quantitative", "scale": {"domain": [1.09, 7.16], "nice": false, "zero": false},
              "axis": {"values": [2, 3, 4, 5, 6, 7], "labels": false, "title": null, "minExtent": 0, "maxExtent": 0}},
        "color": {"field": "level", "type": "ordinal", "legend": null,
                  "scale": {"domain": [1, 2, 3, 4, 5, 6, 7, 8, 9, 10, 11],
                            "range": ["#333333", "#304354", "#2d5473", "#2b6490", "#2d73aa", "#3983bd", "#4f93c8", "#69a5d3", "#87b8dd", "#a3cae7", "#bcd9ee"]}},
        "detail": {"field": "ring"},
        "order": {"value": null}
      }
    },
    {
      "width": 322, "height": 148.5,
      "layer": [
        {
          "data": {"values": [{}]},
          "mark": {"type": "point", "opacity": 0},
          "encoding": {
            "y": {"datum": 4, "type": "quantitative", "scale": {"domain": [1.09, 7.16], "nice": false, "zero": false},
                  "axis": {"values": [2, 3, 4, 5, 6, 7], "labels": false, "title": null, "minExtent": 0, "maxExtent": 0}}
          }
        },
        {
          "data": {"name": "kde_z"},
          "mark": {"type": "line", "color": "#4c72b0", "strokeWidth": 3, "interpolate": "monotone"},
          "encoding": {
            "x": {"field": "T_Zacc", "type": "quantitative", "scale": {"domain": [0.75, 7.47], "nice": false, "zero": false},
                  "axis": {"values": [1, 2, 3, 4, 5, 6, 7], "title": "T_Zacc", "labelPadding": 5, "titlePadding": 3}},
            "y": {"field": "density", "type": "quantitative", "scale": {"domain": [-0.07, 1.415], "nice": false, "zero": false}, "axis": null}
          }
        }
      ],
      "resolve": {"scale": {"y": "independent"}}
    }
  ],
  "config": {
    "font": "Liberation Sans",
    "view": {"fill": "#EAEAF2", "stroke": null},
    "axis": {
      "domain": false, "ticks": false, "grid": true, "gridColor": "#ffffff", "gridWidth": 1.2,
      "labelFont": "Liberation Sans", "labelFontSize": 9.5, "labelColor": "#262626", "labelFlush": false,
      "titleFont": "Liberation Sans", "titleFontSize": 10.5, "titleFontWeight": "normal", "titleColor": "#262626"
    }
  }
}
